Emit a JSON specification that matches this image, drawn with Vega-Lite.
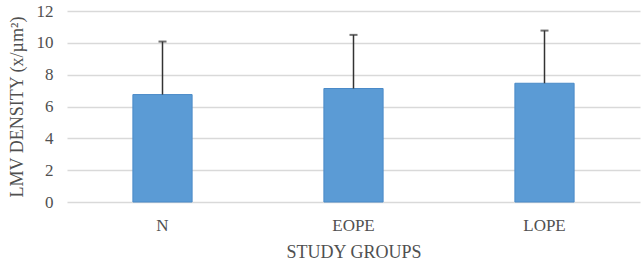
{
  "$schema": "https://vega.github.io/schema/vega-lite/v6.json",
  "autosize": {"type": "none"},
  "padding": {"left": 67, "top": 11, "right": 2, "bottom": 62},
  "width": 573,
  "height": 191,
  "background": "white",
  "data": {"values": [
    {"group": "N", "value": 6.75, "upper": 10.08},
    {"group": "EOPE", "value": 7.13, "upper": 10.5},
    {"group": "LOPE", "value": 7.46, "upper": 10.77}
  ]},
  "encoding": {
    "x": {"field": "group", "type": "nominal", "sort": null,
      "scale": {"paddingInner": 0.69, "paddingOuter": 0.345},
      "axis": {"title": "STUDY GROUPS", "labelAngle": 0, "domain": false, "ticks": false,
        "labelFont": "Liberation Serif", "labelFontSize": 17, "labelColor": "#505050", "labelPadding": 15,
        "titleFont": "Liberation Serif", "titleFontSize": 18, "titleFontWeight": "normal", "titleColor": "#505050", "titlePadding": 10}},
    "y": {"field": "value", "type": "quantitative",
       "scale": {"domain": [0, 12], "nice": false},
       "axis": {"title": "LMV  DENSITY (x/µm²)", "values": [0,2,4,6,8,10,12], "labelOverlap": false, "domain": false, "ticks": false,
         "gridColor": "#D9D9D9", "gridWidth": 1.5,
         "labelFont": "Liberation Serif", "labelFontSize": 17, "labelColor": "#505050", "labelPadding": 14, "labelBaseline": "middle",
         "titleFont": "Liberation Serif", "titleFontSize": 18, "titleFontWeight": "normal", "titleColor": "#505050", "titlePadding": 10}}
  },
  "layer": [
    {"mark": {"type": "bar", "color": "#5B9BD5", "stroke": "#4A8AC8", "strokeWidth": 1}},
    {"mark": {"type": "rule", "color": "#333333", "strokeWidth": 1.5},
     "encoding": {"y2": {"field": "upper"}}},
    {"mark": {"type": "tick", "color": "#333333", "size": 8, "thickness": 2},
     "encoding": {"y": {"field": "upper", "type": "quantitative",
       "scale": {"domain": [0, 12], "nice": false},
       "axis": {"title": "LMV  DENSITY (x/µm²)", "values": [0,2,4,6,8,10,12], "labelOverlap": false, "domain": false, "ticks": false,
         "gridColor": "#D9D9D9", "gridWidth": 1.5,
         "labelFont": "Liberation Serif", "labelFontSize": 17, "labelColor": "#505050", "labelPadding": 14, "labelBaseline": "middle",
         "titleFont": "Liberation Serif", "titleFontSize": 18, "titleFontWeight": "normal", "titleColor": "#505050", "titlePadding": 10}}}}
  ],
  "config": {"view": {"stroke": null}}
}
